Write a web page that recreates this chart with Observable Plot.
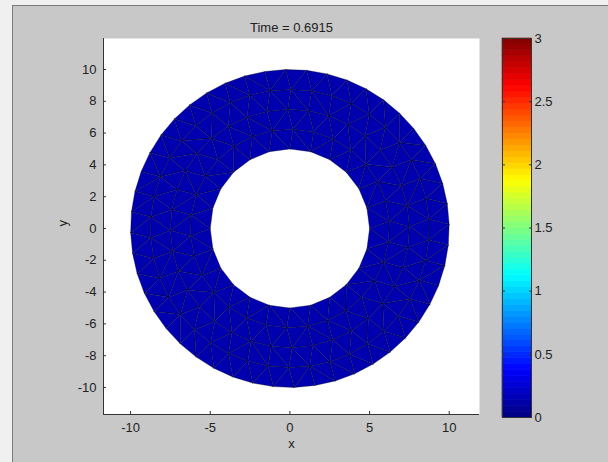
<!DOCTYPE html>
<html>
<head>
<meta charset="utf-8">
<script src="https://cdn.jsdelivr.net/npm/d3@7"></script>
<script src="https://cdn.jsdelivr.net/npm/@observablehq/plot@0.6"></script>
<style>
  html, body { margin: 0; padding: 0; background: #f0f0f0; }
  #fig { position: absolute; left: 0; top: 0; width: 608px; height: 462px; overflow: hidden; }
  #bg { position: absolute; left: 12px; top: 5px; right: 0; bottom: 0; background: #c8c8c8;
        border-top: 1px solid #7a7a7a; border-left: 1px solid #7a7a7a; }
  #fig svg { position: absolute; left: 0; top: 0; }
</style>
</head>
<body>
<div id="fig"><div id="bg"></div></div>
<script>
// ---- data ----
const titleText = "Time = 0.6915";
const xLabel = "x";
const yLabel = "y";
const xTicks = [-10, -5, 0, 5, 10];
const yTicks = [-10, -8, -6, -4, -2, 0, 2, 4, 6, 8, 10];
const xDomain = [-11.7, 11.9];
const yDomain = [-11.7, 11.95];
const cTicks = [0, 0.5, 1, 1.5, 2, 2.5, 3];
const cDomain = [0, 3];
const jetColors = ["#000080", "#0000ff", "#0080ff", "#00ffff", "#80ff80", "#ffff00", "#ff8000", "#ff0000", "#800000"];
// annulus mesh: ring radii, nodes per ring, node angle offsets (fraction of step), value per ring band
const ringR = [5, 6.25, 7.5, 8.75, 10];
const ringN = [24, 30, 36, 42, 48];
const ringOff = [0, 0.35, 0.1, 0.45, 0.2];
const bandU = [0.14, 0.14, 0.14, 0.14];

// ---- build triangles between consecutive rings ----
const tris = [];
let tid = 0;
function node(r, k) {
  const n = ringN[r], a = 2 * Math.PI * (k + ringOff[r]) / n;
  return [ringR[r] * Math.cos(a), ringR[r] * Math.sin(a), a];
}
for (let r = 0; r < ringR.length - 1; r++) {
  const na = ringN[r], nb = ringN[r + 1];
  let i = 0, j = 0;
  while (i < na || j < nb) {
    const A = node(r, i), B = node(r + 1, j);
    const An = node(r, i + 1), Bn = node(r + 1, j + 1);
    let pts;
    if (j >= nb || (i < na && An[2] < Bn[2])) { pts = [A, An, B]; i++; }
    else { pts = [A, Bn, B]; j++; }
    for (const p of pts) tris.push({id: tid, x: p[0], y: p[1], u: bandU[r]});
    tid++;
  }
}

const jet = d3.piecewise(d3.interpolateRgb, jetColors);
const colorScale = {type: "linear", domain: cDomain, interpolate: jet};
const font = "'Liberation Sans', Arial, sans-serif";
const ink = "#222";
const fmt = d => String(d);

// ---- main axes ----
const main = Plot.plot({
  width: 608, height: 462,
  marginLeft: 103, marginRight: 129, marginTop: 38, marginBottom: 48,
  style: {background: "transparent", fontFamily: font, fontSize: "13px", color: ink},
  x: {domain: xDomain},
  y: {domain: yDomain},
  color: colorScale,
  marks: [
    Plot.frame({fill: "white", stroke: "none"}),
    Plot.line(tris, {x: "x", y: "y", z: "id", curve: "linear-closed", fill: "u",
      stroke: "#000", strokeOpacity: 0.45, strokeWidth: 0.7}),
    Plot.ruleX([xDomain[0]], {stroke: "#333", strokeWidth: 1}),
    Plot.ruleY([yDomain[0]], {stroke: "#333", strokeWidth: 1}),
    Plot.axisX({anchor: "bottom", ticks: xTicks, tickSize: -3, tickPadding: 11, tickFormat: fmt, label: null, stroke: "#333", fill: ink}),
    Plot.axisY({anchor: "left", ticks: yTicks, tickSize: -3, tickPadding: 10, tickFormat: fmt, label: null, stroke: "#333", fill: ink}),
    Plot.text([titleText], {frameAnchor: "top", dy: -16, fill: ink, fontSize: 13}),
    Plot.text([xLabel], {frameAnchor: "bottom", dy: 33, fill: ink, fontSize: 13}),
    Plot.text([yLabel], {frameAnchor: "left", dx: -41, rotate: -90, fill: ink, fontSize: 13})
  ]
});
document.getElementById("fig").appendChild(main);

// ---- colorbar ----
const nBands = 64;
const bands = d3.range(nBands).map(i => ({
  y1: cDomain[0] + (cDomain[1] - cDomain[0]) * i / nBands,
  y2: cDomain[0] + (cDomain[1] - cDomain[0]) * (i + 1) / nBands,
  v: cDomain[0] + (cDomain[1] - cDomain[0]) * (i + 0.5) / nBands
}));
const cbar = Plot.plot({
  width: 608, height: 462,
  marginLeft: 502, marginRight: 77, marginTop: 38, marginBottom: 45,
  style: {background: "transparent", fontFamily: font, fontSize: "13px", color: ink},
  y: {domain: cDomain},
  color: colorScale,
  marks: [
    Plot.rect(bands, {y1: "y1", y2: "y2", fill: "v", stroke: "v", strokeWidth: 0.6}),
    Plot.axisY({anchor: "right", ticks: cTicks, tickSize: -3, tickPadding: 6, tickFormat: fmt, label: null, stroke: "#333", fill: ink}),
    Plot.axisY({anchor: "left", ticks: cTicks, tickSize: -3, tickFormat: () => "", label: null, stroke: "#333"}),
    Plot.frame({stroke: "#333", strokeWidth: 1})
  ]
});
document.getElementById("fig").appendChild(cbar);
</script>
</body>
</html>
